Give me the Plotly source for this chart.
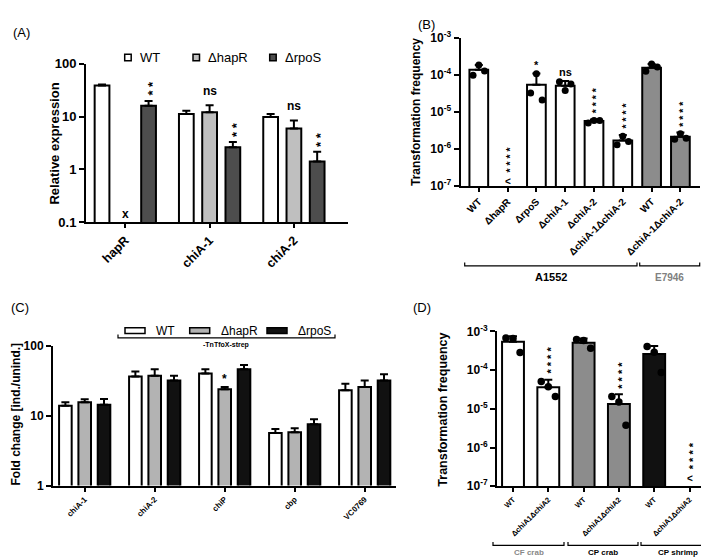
import math
import plotly.graph_objects as go

W, H = 709, 559
FONT = "Liberation Sans, Arial, sans-serif"

def PX(x):
    return x / W

def PY(y):
    return 1 - y / H

# ---------------- Panel A data ----------------
A_genes = ["hapR", "chiA-1", "chiA-2"]
A_strains = ["WT", "ΔhapR", "ΔrpoS"]
A_WT = [39.0, 11.2, 9.8]
A_WT_err = [1.5, 1.7, 1.4]
A_hapR = [None, 12.1, 5.96]
A_hapR_err = [0, 4.3, 2.5]
A_rpoS = [16.0, 2.63, 1.42]
A_rpoS_err = [3.8, 0.67, 0.74]
A_sig_hapR = ["x", "ns", "ns"]
A_sig_rpoS = ["**", "**", "**"]

# ---------------- Panel B data ----------------
B_labels = ["WT", "ΔhapR", "ΔrpoS", "ΔchiA-1", "ΔchiA-2", "ΔchiA-1ΔchiA-2", "WT", "ΔchiA-1ΔchiA-2"]
B_strain = ["A1552", "A1552", "A1552", "A1552", "A1552", "A1552", "E7946", "E7946"]
B_mean = [1.39e-4, None, 5.42e-5, 5.1e-5, 5.69e-6, 1.70e-6, 1.58e-4, 2.14e-6]
B_err = [0.49e-4, 0, 0.55e-4, 0.18e-4, 0.6e-6, 0.7e-6, 0.42e-4, 0.66e-6]
B_rep1 = [0.99e-4, None, 3.27e-5, 6.6e-5, 5.05e-6, 1.30e-6, 1.26e-4, 1.85e-6]
B_rep2 = [1.88e-4, None, 1.09e-4, 3.8e-5, 5.93e-6, 2.20e-6, 2.00e-4, 2.60e-6]
B_rep3 = [1.29e-4, None, 2.10e-5, 5.7e-5, 5.93e-6, 1.60e-6, 1.64e-4, 1.95e-6]
B_sig = ["", "****", "*", "ns", "****", "****", "", "****"]

# ---------------- Panel C data ----------------
C_genes = ["chiA-1", "chiA-2", "chiP", "cbp", "VC0769"]
C_WT = [13.8, 36.4, 40.0, 5.67, 23.1]
C_WT_err = [1.8, 6.3, 6.0, 0.76, 5.4]
C_hapR = [15.6, 37.2, 23.8, 5.8, 25.6]
C_hapR_err = [1.5, 8.8, 1.8, 0.8, 6.1]
C_rpoS = [14.3, 31.7, 46.0, 7.55, 31.7]
C_rpoS_err = [3.0, 5.5, 6.8, 1.3, 7.5]
C_sig_hapR = ["", "", "*", "", ""]

# ---------------- Panel D data ----------------
D_labels = ["WT", "ΔchiA1ΔchiA2", "WT", "ΔchiA1ΔchiA2", "WT", "ΔchiA1ΔchiA2"]
D_substrate = ["CF crab", "CF crab", "CP crab", "CP crab", "CP shrimp", "CP shrimp"]
D_mean = [5.41e-4, 3.63e-5, 5.1e-4, 1.33e-5, 2.61e-4, None]
D_err = [2.1e-4, 2.0e-5, 1.5e-4, 1.04e-5, 1.6e-4, 0]
D_rep1 = [6.8e-4, 5.1e-5, 6.2e-4, 2.1e-5, 4.1e-4, None]
D_rep2 = [6.55e-4, 3.7e-5, 5.8e-4, 1.5e-5, 2.9e-4, None]
D_rep3 = [2.87e-4, 2.1e-5, 3.7e-4, 3.8e-6, 8.7e-5, None]
D_sig = ["", "****", "", "****", "", "****"]

# ---------------- styles ----------------
A_colors = ["#ffffff", "#bfbfbf", "#4d4d4d"]
C_colors = ["#ffffff", "#b3b3b3", "#111111"]
B_colors = {"A1552": "#ffffff", "E7946": "#8c8c8c"}
D_colors = {"CF crab": "#ffffff", "CP crab": "#8c8c8c", "CP shrimp": "#111111"}
JITTER = [-0.2, 0.0, 0.2]

fig = go.Figure()

def err(arr):
    return dict(type="data", symmetric=False, array=arr, arrayminus=[0] * len(arr),
                color="black", thickness=2, width=4)

# Panel A bars
A_series = [A_WT, A_hapR, A_rpoS]
A_errs = [A_WT_err, A_hapR_err, A_rpoS_err]
A_w, A_sp = 0.175, 0.276
for k in range(3):
    fig.add_trace(go.Bar(x=list(range(len(A_genes))), y=A_series[k], error_y=err(A_errs[k]),
                         width=A_w, offset=(k - 1) * A_sp - A_w / 2,
                         marker=dict(color=A_colors[k], line=dict(color="black", width=2)),
                         xaxis="x", yaxis="y", showlegend=False))

# Panel B bars + dots
fig.add_trace(go.Bar(x=list(range(len(B_labels))), y=B_mean, error_y=err(B_err), width=0.65,
                     marker=dict(color=[B_colors[s] for s in B_strain], line=dict(color="black", width=2)),
                     xaxis="x2", yaxis="y2", showlegend=False))
for j, reps in enumerate([B_rep1, B_rep2, B_rep3]):
    fig.add_trace(go.Scatter(x=[i + JITTER[j] for i in range(len(reps)) if reps[i] is not None],
                             y=[r for r in reps if r is not None], mode="markers",
                             marker=dict(color="black", size=7), xaxis="x2", yaxis="y2",
                             showlegend=False, cliponaxis=False))

# Panel C bars
C_series = [C_WT, C_hapR, C_rpoS]
C_errs = [C_WT_err, C_hapR_err, C_rpoS_err]
C_w, C_sp = 0.18, 0.276
for k in range(3):
    fig.add_trace(go.Bar(x=list(range(len(C_genes))), y=C_series[k], error_y=err(C_errs[k]),
                         width=C_w, offset=(k - 1) * C_sp - C_w / 2,
                         marker=dict(color=C_colors[k], line=dict(color="black", width=2)),
                         xaxis="x3", yaxis="y3", showlegend=False))

# Panel D bars + dots
fig.add_trace(go.Bar(x=list(range(len(D_labels))), y=D_mean, error_y=err(D_err), width=0.62,
                     marker=dict(color=[D_colors[s] for s in D_substrate], line=dict(color="black", width=2)),
                     xaxis="x4", yaxis="y4", showlegend=False))
for j, reps in enumerate([D_rep1, D_rep2, D_rep3]):
    fig.add_trace(go.Scatter(x=[i + JITTER[j] for i in range(len(reps)) if reps[i] is not None],
                             y=[r for r in reps if r is not None], mode="markers",
                             marker=dict(color="black", size=7.5), xaxis="x4", yaxis="y4",
                             showlegend=False, cliponaxis=False))

# ---------------- axes ----------------
def xax(domain, anchor, rng, ticktext, size):
    return dict(domain=domain, anchor=anchor, range=rng, tickvals=list(range(len(ticktext))),
                ticktext=ticktext, tickangle=-45, showline=True, linewidth=2, linecolor="black",
                ticks="outside", ticklen=4, tickwidth=1.5, tickcolor="black", showgrid=False,
                zeroline=False, tickfont=dict(family=FONT, size=size, color="black", weight="bold"))

def yax(domain, anchor, rng, tickvals, ticktext, size):
    return dict(domain=domain, anchor=anchor, type="log", range=rng, tickvals=tickvals,
                ticktext=ticktext, showline=True, linewidth=2, linecolor="black", ticks="outside",
                ticklen=5, tickwidth=2, tickcolor="black", showgrid=False, zeroline=False,
                tickfont=dict(family=FONT, size=size, color="black", weight="bold"))

A_yt = [0.1, 1, 10, 100]
A_ytl = ["0.1", "1", "10", "100"]
C_yt = [1, 10, 100]
C_ytl = ["1", "10", "100"]
TF_yt = [1e-7, 1e-6, 1e-5, 1e-4, 1e-3]
TF_ytl = ["10<sup>-7</sup>", "10<sup>-6</sup>", "10<sup>-5</sup>", "10<sup>-4</sup>", "10<sup>-3</sup>"]

# pixel geometry of each panel
A_x0, A_x1, A_c0, A_step = 78, 340, 117.3, 84.3
B_x0, B_x1, B_c0, B_step = 452.5, 692, 470.8, 28.8
C_x0, C_x1, C_c0, C_step = 45, 388.3, 76.7, 70
D_x0, D_x1, D_c0, D_step = 489, 708, 505, 35.3

def xr(x0, x1, c0, st):
    return [(x0 - c0) / st, (x1 - c0) / st]

fig.update_layout(
    xaxis=xax([PX(A_x0), PX(A_x1)], "y", xr(A_x0, A_x1, A_c0, A_step), A_genes, 12.5),
    yaxis=yax([PY(211.7), PY(48.3)], "x", [-1, 2], A_yt, A_ytl, 13),
    xaxis2=xax([PX(B_x0), PX(B_x1)], "y2", xr(B_x0, B_x1, B_c0, B_step), B_labels, 10),
    yaxis2=yax([PY(174.3), PY(21.7)], "x2", [-7, -3], TF_yt, TF_ytl, 12),
    xaxis3=xax([PX(C_x0), PX(C_x1)], "y3", xr(C_x0, C_x1, C_c0, C_step), C_genes, 8),
    yaxis3=yax([PY(483.3), PY(339)], "x3", [0, 2], C_yt, C_ytl, 12),
    xaxis4=xax([PX(D_x0), PX(D_x1)], "y4", xr(D_x0, D_x1, D_c0, D_step), D_labels, 7.5),
    yaxis4=yax([PY(484), PY(324.3)], "x4", [-7, -3], TF_yt, TF_ytl, 12),
)

ann = []
shapes = []

def text(x, y, t, size, bold=True, color="black", angle=0, xanchor="center", yanchor="middle"):
    ann.append(dict(x=PX(x), y=PY(y), xref="paper", yref="paper", text=t, showarrow=False,
                    textangle=angle, xanchor=xanchor, yanchor=yanchor,
                    font=dict(family=FONT, size=size, color=color, weight="bold" if bold else "normal")))

def sig(xref, yref, x, ylog, s, base, size):
    """Significance mark placed `base` px above the point; a star stack is one rotated string."""
    if s == "":
        return
    if s in ("ns", "x", "<", "*"):
        ann.append(dict(x=x, y=ylog, xref=xref, yref=yref, text=s, showarrow=False, yshift=base,
                        yanchor="middle", font=dict(family=FONT, size=size, color="black", weight="bold")))
        return
    ann.append(dict(x=x, y=ylog, xref=xref, yref=yref, text=" ".join(s), showarrow=False,
                    yshift=base, xshift=size * 0.27, yanchor="bottom", textangle=-90,
                    font=dict(family=FONT, size=size, color="black", weight="bold")))

def top(v, e):
    return math.log10(v + e)

# Panel A significance
for i in range(len(A_genes)):
    if A_hapR[i] is None:
        sig("x", "y", i, -1, A_sig_hapR[i], 8, 12)
    else:
        sig("x", "y", i, top(A_hapR[i], A_hapR_err[i]), A_sig_hapR[i], 14, 12)
    sig("x", "y", i + A_sp, top(A_rpoS[i], A_rpoS_err[i]), A_sig_rpoS[i], 3, 13)

# Panel B significance
for i in range(len(B_labels)):
    if B_mean[i] is None:
        sig("x2", "y2", i, -7, "<", 5, 10)
        sig("x2", "y2", i, -7, B_sig[i], 12, 10.5)
    elif B_sig[i] in ("ns", "*"):
        sig("x2", "y2", i, top(B_mean[i], B_err[i]), B_sig[i], 9, 11)
    else:
        sig("x2", "y2", i, top(B_mean[i], B_err[i]), B_sig[i], 4, 10.5)

# Panel C significance
for i in range(len(C_genes)):
    sig("x3", "y3", i, top(C_hapR[i], C_hapR_err[i]), C_sig_hapR[i], 8, 12)

# Panel D significance
for i in range(len(D_labels)):
    if D_mean[i] is None:
        sig("x4", "y4", i, -7, "<", 8, 10)
        sig("x4", "y4", i, -7, D_sig[i], 15, 11)
    else:
        sig("x4", "y4", i, top(D_mean[i], D_err[i]), D_sig[i], 4, 11)

# Panel labels
text(13, 16, "(A)", 13, bold=False)
text(418, 8, "(B)", 13, bold=False)
text(12, 300, "(C)", 13, bold=False)
text(414, 300, "(D)", 13, bold=False)

# Axis titles
text(46.5, 131, "Relative expression", 13, angle=-90)
text(408, 98, "Transformation frequency", 12, angle=-90)
text(8, 410, "Fold change [ind./unind.]", 12, angle=-90)
text(435, 405, "Transformation frequency", 12.5, angle=-90)

# Legend A (squares)
A_leg_x = [116.7, 185, 261.7]
for k in range(3):
    x0 = A_leg_x[k]
    shapes.append(dict(type="rect", xref="paper", yref="paper", x0=PX(x0), x1=PX(x0 + 6.5),
                       y0=PY(45), y1=PY(38.5), fillcolor=A_colors[k], line=dict(color="black", width=1.5)))
    text(x0 + 13, 41.5, A_strains[k], 13, bold=False, xanchor="left")

# Legend C (wide boxes + bracket)
C_leg_x = [117, 181.7, 259]
for k in range(3):
    x0 = C_leg_x[k]
    shapes.append(dict(type="rect", xref="paper", yref="paper", x0=PX(x0), x1=PX(x0 + 20),
                       y0=PY(326.5), y1=PY(320.5), fillcolor=C_colors[k], line=dict(color="black", width=1.5)))
    text(x0 + 29, 323.5, A_strains[k], 12, bold=False, xanchor="left")

def bracket(x0, x1, y, h=3.5, color="black"):
    shapes.append(dict(type="path", xref="paper", yref="paper",
                       path=f"M {PX(x0)} {PY(y - h)} L {PX(x0)} {PY(y)} L {PX(x1)} {PY(y)} L {PX(x1)} {PY(y - h)}",
                       line=dict(color=color, width=1.2)))

bracket(110, 327, 331)
text(218, 338.5, "-TnTfoX-strep", 7)

# Brackets B
bracket(456.7, 629, 256.7)
bracket(631.7, 691.7, 256.7)
text(543, 268.5, "A1552", 11)
text(661.7, 268.5, "E7946", 10, color="#808080")

# Brackets D
D_groups = ["CF crab", "CP crab", "CP shrimp"]
D_br = [(485, 556), (560, 630), (633, 706.5)]
D_lab_col = ["#888888", "black", "black"]
for g, (a, b), col in zip(D_groups, D_br, D_lab_col):
    bracket(a, b, 545)
    text((a + b) / 2, 552, g, 8, color=col)

fig.update_layout(annotations=ann, shapes=shapes, width=W, height=H,
                  margin=dict(l=0, r=0, t=0, b=0), paper_bgcolor="white", plot_bgcolor="white",
                  barmode="overlay", showlegend=False, font=dict(family=FONT))

fig.write_html("out.html")
